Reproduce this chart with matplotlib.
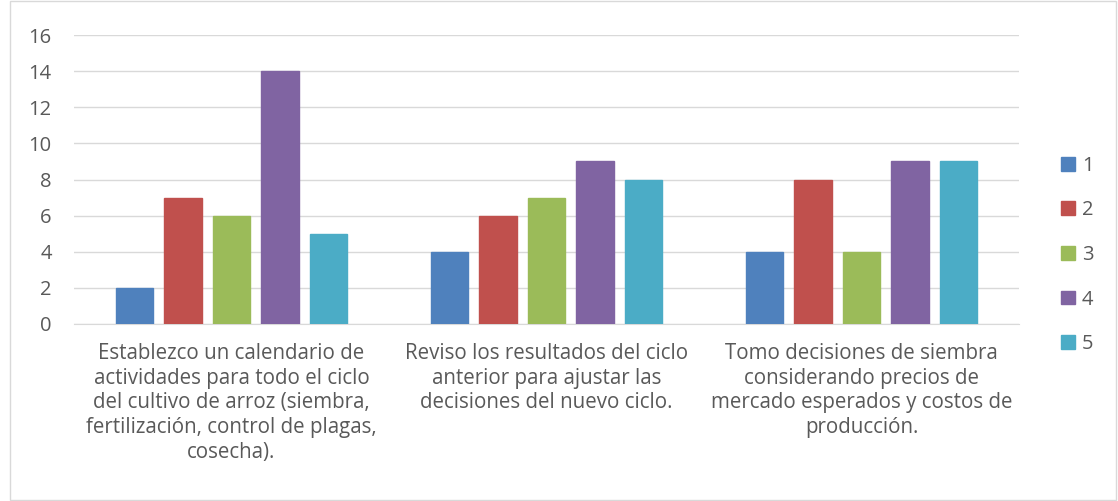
import numpy as np
import matplotlib.pyplot as plt
from matplotlib.patches import Patch

categories = [
    "Establezco un calendario de\nactividades para todo el ciclo\ndel cultivo de arroz (siembra,\nfertilización, control de plagas,\ncosecha).",
    "Reviso los resultados del ciclo\nanterior para ajustar las\ndecisiones del nuevo ciclo.",
    "Tomo decisiones de siembra\nconsiderando precios de\nmercado esperados y costos de\nproducción.",
]
series_names = ["1", "2", "3", "4", "5"]
s1 = [2, 4, 4]
s2 = [7, 6, 8]
s3 = [6, 7, 4]
s4 = [14, 9, 9]
s5 = [5, 8, 9]
colors = ["#4F81BD", "#C0504D", "#9BBB59", "#8064A2", "#4BACC6"]

plt.rcParams['font.family'] = ['Open Sans', 'DejaVu Sans']
txt = "#595959"

fig = plt.figure(figsize=(11.18, 5.01), dpi=100)
ax = fig.add_axes([0.0662, 0.3533, 0.8453, 0.5768])

x = np.arange(len(categories))
width = 0.12
step = 0.154
for i, vals in enumerate([s1, s2, s3, s4, s5]):
    ax.bar(x + (i - 2) * step, vals, width, color=colors[i], label=series_names[i],
           edgecolor=colors[i], zorder=3)

ax.set_xlim(-0.5, 2.5)
ax.set_ylim(0, 16)
ax.set_yticks(range(0, 17, 2))
ax.yaxis.grid(True, color="#D9D9D9", linewidth=1, zorder=0)
ax.set_axisbelow(True)
for sp in ["top", "right", "left"]:
    ax.spines[sp].set_visible(False)
ax.spines["bottom"].set_color("#D9D9D9")
ax.tick_params(axis="y", length=0, labelsize=14.5, colors=txt, pad=16)
ax.tick_params(axis="x", length=0, labelsize=14.8, colors=txt, pad=14)
ax.set_xticks(x)
ax.set_xticklabels(categories, linespacing=1.22)

handles = [Patch(facecolor=c, edgecolor=c) for c in colors]
fig.legend(handles, series_names, loc="center left", bbox_to_anchor=(0.949, 0.491),
           frameon=False, fontsize=14.5, labelspacing=1.22, handlelength=0.68,
           handleheight=0.68, handletextpad=0.35, labelcolor=txt,
           borderaxespad=0, borderpad=0)

fig.patches.append(plt.Rectangle((0.009, 0.002), 0.989, 0.996, transform=fig.transFigure,
                                 fill=False, edgecolor="#D9D9D9", linewidth=1))

fig.savefig("out.png", dpi=100)
